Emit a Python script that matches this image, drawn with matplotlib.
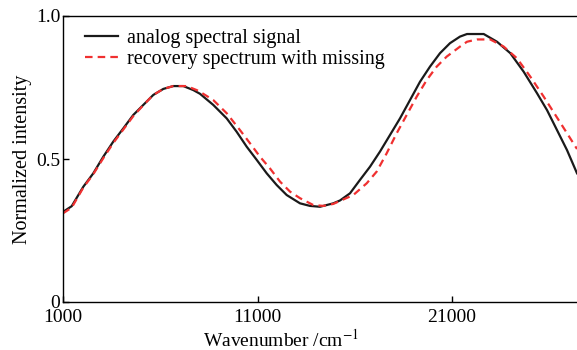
import matplotlib
matplotlib.use("Agg")
import matplotlib.pyplot as plt

plt.rcParams['font.family'] = ['Liberation Serif', 'DejaVu Serif']
plt.rcParams['mathtext.fontset'] = 'stix'

# Analog spectral signal (black solid)
x_analog = [1000, 1447, 2044, 2558, 3072, 3586, 4100, 4614, 5128, 5642, 6156, 6670,
            7184, 7699, 8043, 8727, 9416, 9930, 10444, 10958, 11472, 11986, 12500,
            13184, 13698, 14212, 14896, 15241, 15755, 16269, 16783, 17297, 17811,
            18325, 18839, 19353, 19867, 20382, 20896, 21410, 21770, 22629, 23312,
            23996, 24685, 25369, 25883, 26398, 26912, 27425]
y_analog = [0.315, 0.335, 0.403, 0.450, 0.508, 0.561, 0.607, 0.654, 0.689, 0.724, 0.745,
            0.755, 0.755, 0.741, 0.728, 0.689, 0.642, 0.595, 0.543, 0.497, 0.450, 0.409,
            0.374, 0.345, 0.336, 0.333, 0.345, 0.355, 0.380, 0.427, 0.473, 0.526, 0.584,
            0.642, 0.706, 0.770, 0.823, 0.870, 0.905, 0.928, 0.937, 0.937, 0.910,
            0.870, 0.805, 0.730, 0.671, 0.601, 0.531, 0.450]

# Recovery spectrum with missing (red dashed)
x_recov = [1000, 1447, 2044, 2558, 3072, 3586, 4100, 4614, 5128, 5642, 6156, 6670,
           7359, 7874, 8043, 8727, 9416, 10100, 10614, 11128, 11642, 12156, 12670,
           13184, 13868, 14382, 14896, 15924, 16613, 17127, 17641, 18155, 18670,
           19184, 19698, 20212, 20726, 21410, 21770, 22284, 22968, 23657, 24340,
           25024, 25713, 26398, 26912, 27425]
y_recov = [0.31, 0.33, 0.40, 0.447, 0.503, 0.556, 0.603, 0.650, 0.688, 0.724, 0.745,
           0.755, 0.755, 0.741, 0.735, 0.706, 0.660, 0.601, 0.555, 0.508, 0.467, 0.421,
           0.386, 0.363, 0.339, 0.336, 0.343, 0.374, 0.415, 0.456, 0.520, 0.590, 0.654,
           0.718, 0.776, 0.823, 0.858, 0.893, 0.910, 0.918, 0.918, 0.893, 0.852,
           0.788, 0.718, 0.645, 0.590, 0.535]

xticks = [1000, 11000, 21000]
yticks = [0, 0.5, 1.0]
ytick_labels = ['0', '0.5', '1.0']

fig = plt.figure(figsize=(5.77, 3.5), dpi=100)
ax = fig.add_axes([63/577, 1 - 302/350, 1 - 63/577, (302 - 16)/350])

ax.plot(x_analog, y_analog, color='#1a1a1a', lw=1.6, label='analog spectral signal')
ax.plot(x_recov, y_recov, color='#f03030', lw=1.6, ls=(0, (3.4, 2.3)),
        label='recovery spectrum with missing')

ax.set_xlim(1000, 27425)
ax.set_ylim(0, 1.0)
ax.set_xticks(xticks)
ax.set_yticks(yticks)
ax.set_yticklabels(ytick_labels)
ax.tick_params(direction='in', length=4, width=1, labelsize=14)
ax.tick_params(axis='x', pad=5)
ax.tick_params(axis='y', pad=2)
ax.spines['right'].set_visible(False)
for s in ['left', 'bottom', 'top']:
    ax.spines[s].set_linewidth(1.0)

ax.set_xlabel('Wavenumber /cm$^{-1}$', fontsize=14)
ax.xaxis.set_label_coords((281 - 63) / (577 - 63), -0.13, transform=ax.transAxes)
ax.xaxis.label.set_va('center')
ax.set_ylabel('Normalized intensity', fontsize=14.5, labelpad=3)

ax.legend(loc='upper left', frameon=False, fontsize=14.5, handlelength=1.65,
          handletextpad=0.45, borderaxespad=0.0, borderpad=0.3, labelspacing=0.1,
          bbox_to_anchor=(16 / 514, 1 - 7 / 286))

fig.savefig('out.png', dpi=100)
